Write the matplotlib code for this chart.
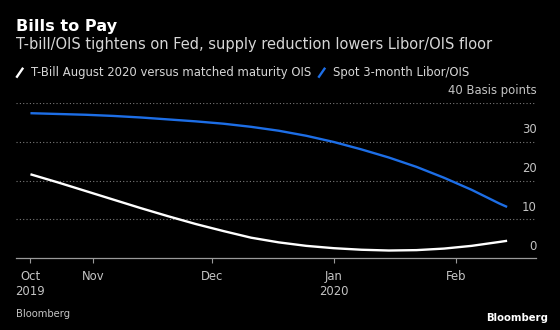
import matplotlib
matplotlib.use('Agg')
import matplotlib.pyplot as plt
import matplotlib.transforms as mtransforms
from matplotlib.lines import Line2D
import pandas as pd

# ---- data ----
dates = ['2019-10-16', '2019-10-23', '2019-10-30', '2019-11-06', '2019-11-13',
         '2019-11-20', '2019-11-27', '2019-12-04', '2019-12-11', '2019-12-18',
         '2019-12-25', '2020-01-01', '2020-01-08', '2020-01-15', '2020-01-22',
         '2020-01-29', '2020-02-05', '2020-02-12', '2020-02-14']
tbill_ois = [21.6, 19.5, 17.3, 15.1, 12.9, 10.8, 8.8, 7.0, 5.3, 4.1,
             3.2, 2.6, 2.2, 2.0, 2.1, 2.5, 3.2, 4.2, 4.5]
libor_ois = [37.3, 37.1, 36.9, 36.6, 36.2, 35.7, 35.2, 34.6, 33.8, 32.8,
             31.5, 29.9, 28.0, 25.9, 23.5, 20.7, 17.6, 14.1, 13.2]
series_names = ['T-Bill August 2020 versus matched maturity OIS',
                'Spot 3-month Libor/OIS']
x_tick_dates = ['2019-10-16', '2019-11-01', '2019-12-01', '2020-01-01', '2020-02-01']
x_tick_labels = ['Oct\n2019', 'Nov', 'Dec', 'Jan\n2020', 'Feb']
y_ticks = [0, 10, 20, 30, 40]
y_tick_labels = ['0', '10', '20', '30', '40 Basis points']
x_range = ['2019-10-12 08:00', '2020-02-21 08:00']

title = 'Bills to Pay'
subtitle = 'T-bill/OIS tightens on Fed, supply reduction lowers Libor/OIS floor'
source = 'Bloomberg'
logo = 'Bloomberg'

# ---- style ----
plt.rcParams['font.family'] = ['DejaVu Sans']
BG = '#000000'
WHITE = '#ffffff'
BLUE = '#1d6ee6'
TXT = '#d6d6d6'
TICK = '#c4c4c4'
GRID = '#7a7a7a'

W, H = 560, 330
fig = plt.figure(figsize=(W / 100, H / 100), dpi=100, facecolor=BG)


def fx(px):
    return px / W


def fy(py):
    return 1 - py / H


ax = fig.add_axes([fx(16), fy(258.3), fx(536) - fx(16), fy(102.7) - fy(258.3)])
ax.set_facecolor(BG)

x = pd.to_datetime(dates)
ax.plot(x, tbill_ois, color=WHITE, lw=1.7, solid_capstyle='butt',
        solid_joinstyle='round', zorder=3)
ax.plot(x, libor_ois, color=BLUE, lw=1.7, solid_capstyle='butt',
        solid_joinstyle='round', zorder=3)

ax.set_xlim(pd.to_datetime(x_range[0]), pd.to_datetime(x_range[1]))
ax.set_ylim(y_ticks[0], y_ticks[-1])

for s in ['top', 'right', 'left']:
    ax.spines[s].set_visible(False)
ax.spines['bottom'].set_color('#9a9a9a')
ax.spines['bottom'].set_linewidth(0.9)

ax.set_yticks(y_ticks)
ax.set_yticklabels([])
ax.tick_params(axis='y', length=0)
for yv in y_ticks[1:]:
    ax.axhline(yv, color=GRID, lw=0.8, ls=(0, (1, 2)), zorder=1)

trans = mtransforms.blended_transform_factory(ax.transAxes, ax.transData)
trans_off = mtransforms.offset_copy(trans, fig=fig, x=1, y=12, units='dots')
for yv, lab in zip(y_ticks, y_tick_labels):
    ax.text(1.0, yv, lab, transform=trans_off, ha='right', va='center',
            color=TICK, fontsize=8.4)

ax.set_xticks(pd.to_datetime(x_tick_dates))
ax.set_xticklabels(x_tick_labels, color=TICK, fontsize=8.4, linespacing=1.25)
ax.tick_params(axis='x', length=3.5, width=0.8, color='#9a9a9a', pad=4.8)

# titles
fig.text(fx(16), fy(27), title, color=WHITE, fontsize=11.6, fontweight='bold',
         va='center', ha='left')
fig.text(fx(16), fy(45), subtitle, color=TXT, fontsize=10.55,
         va='center', ha='left')

# legend
leg_y = 72.7
fig.add_artist(Line2D([fx(17), fx(22.5)], [fy(leg_y + 4), fy(leg_y - 4)],
                      color=WHITE, lw=1.7, transform=fig.transFigure))
fig.text(fx(31), fy(leg_y), series_names[0], color=TXT, fontsize=8.35,
         va='center', ha='left')
fig.add_artist(Line2D([fx(319), fx(324.5)], [fy(leg_y + 4), fy(leg_y - 4)],
                      color=BLUE, lw=1.7, transform=fig.transFigure))
fig.text(fx(333), fy(leg_y), series_names[1], color=TXT, fontsize=8.4,
         va='center', ha='left')

# footer
fig.text(fx(16), fy(314.3), source, color=TICK, fontsize=7.2, va='center', ha='left')
fig.text(fx(548.5), fy(318.3), logo, color=WHITE, fontsize=7.3, fontweight='bold',
         va='center', ha='right')

fig.savefig('out.png', dpi=100, facecolor=BG)
